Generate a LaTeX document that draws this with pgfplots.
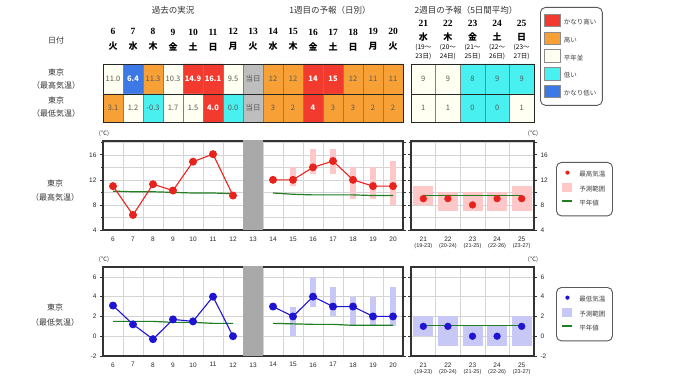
\documentclass[border=0pt]{standalone}
\usepackage{pgfplots}
\pgfplotsset{compat=1.18}
\usepackage{fontspec}
\setmainfont{Liberation Sans}
\newfontfamily\cjk{Noto Sans CJK JP}
\newfontfamily\hserif{Liberation Serif}

\definecolor{cRed}{HTML}{F23A2E}
\definecolor{cOrange}{HTML}{F7A035}
\definecolor{cIvory}{HTML}{FFFFF2}
\definecolor{cCyan}{HTML}{48F0F0}
\definecolor{cBlue}{HTML}{3C78E6}
\definecolor{cCellGray}{HTML}{BEBEBE}
\definecolor{cBand}{HTML}{A9A9A9}
\definecolor{cLine}{HTML}{E8231E}
\definecolor{cPink}{HTML}{FFC8C8}
\definecolor{cNavy}{HTML}{1E14D2}
\definecolor{cLav}{HTML}{C8C8F6}
\definecolor{cGreen}{HTML}{1F7F22}

\newcommand\hd[2]{{\hserif\bfseries\fontsize{9.5}{12.5}\selectfont #1}\\[2.5pt]{\cjk\bfseries\fontsize{9}{12.5}\selectfont #2}}
\newcommand\hw[4]{{\hserif\bfseries\fontsize{9.5}{8.3}\selectfont #1}\\[5.5pt]{\cjk\bfseries\fontsize{9}{8.3}\selectfont #2}\\[1pt]{\cjk\fontsize{6.5}{8.3}\selectfont (#3〜}\\{\cjk\fontsize{6.5}{8.3}\selectfont #4日)}}
\newcommand\wl[2]{#1\\[-1pt]{\fontsize{5.5}{6}\selectfont (#2)}}

\pgfplotsset{
  tbl/.style={
    scale only axis, anchor=south west, axis on top,
    ymin=0, ymax=1, ytick=\empty, enlargelimits=false,
    axis line style={draw=black!85, line width=0.8pt},
    major tick length=0pt, xtick style={draw=none},
  },
  cell/.style={ybar, bar width=1, bar shift=0pt, draw=black!50, line width=0.5pt, forget plot},
  ctext/.style={draw=none, forget plot, nodes near coords, point meta=explicit symbolic,
    nodes near coords align=center,
    every node near coord/.append style={font=\cjk\fontsize{7.5}{8}\selectfont, text=black!65, inner sep=0pt}},
  wtext/.style={ctext, every node near coord/.append style={text=white, font=\cjk\bfseries\fontsize{7.5}{8}\selectfont}},
  chart/.style={
    scale only axis, anchor=south west, height=89pt,
    axis line style={draw=black!80, line width=1.1pt},
    grid style={draw=black!17, line width=0.5pt},
    xminorgrids=true, xmajorgrids=false, ymajorgrids=true, yminorgrids=true,
    tick align=outside, major tick length=3pt, minor tick length=2.5pt,
    tick style={black!80, line width=0.6pt},
    xtick style={draw=none},
    ticklabel style={font=\fontsize{6.5}{7}\selectfont, text=black!85},
    /pgf/number format/assume math mode=true,
  },
  rng/.style={line width=#1, unbounded coords=jump, forget plot},
  band/.style={ybar, bar width=1, bar shift=0pt, fill=cBand, draw=none, forget plot},
  clegend/.style={legend style={draw=black!65, line width=0.9pt, rounded corners=5pt,
      inner xsep=5pt, inner ysep=7pt, row sep=2.5pt, font=\cjk\fontsize{6.5}{7}\selectfont,
      text=black!75, cells={anchor=west}, /tikz/every odd column/.append style={column sep=4pt}}},
}

\begin{document}
\begin{tikzpicture}
\fill[white] (0pt,0pt) rectangle (680pt,382pt);
\path[use as bounding box] (0pt,0pt) rectangle (680pt,382pt);

% ---------- table: past + week 1, max row ----------
\begin{axis}[tbl, at={(103pt,288pt)}, width=300pt, height=30pt, xmin=5.5, xmax=20.5,
  xtick={6,...,20}, xticklabel pos=right,
  xticklabels={{\hd{6}{火}},{\hd{7}{水}},{\hd{8}{木}},{\hd{9}{金}},{\hd{10}{土}},{\hd{11}{日}},{\hd{12}{月}},{\hd{13}{火}},{\hd{14}{水}},{\hd{15}{木}},{\hd{16}{金}},{\hd{17}{土}},{\hd{18}{日}},{\hd{19}{月}},{\hd{20}{火}}},
  xticklabel style={align=center, inner sep=0pt, font=\fontsize{9}{12.5}\selectfont, yshift=13pt}]
\addplot[cell, fill=cIvory] coordinates {(6,1) (9,1) (12,1)};
\addplot[cell, fill=cBlue] coordinates {(7,1)};
\addplot[cell, fill=cOrange] coordinates {(8,1) (14,1) (15,1) (18,1) (19,1) (20,1)};
\addplot[cell, fill=cRed] coordinates {(10,1) (11,1) (16,1) (17,1)};
\addplot[cell, fill=cCellGray] coordinates {(13,1)};
\addplot[ctext] table[meta=t] {
x y t
6 0.5 11.0
8 0.5 11.3
9 0.5 10.3
12 0.5 9.5
13 0.5 当日
14 0.5 12
15 0.5 12
18 0.5 12
19 0.5 11
20 0.5 11
};
\addplot[wtext] table[meta=t] {
x y t
7 0.5 6.4
10 0.5 14.9
11 0.5 16.1
16 0.5 14
17 0.5 15
};
\end{axis}

% ---------- table: past + week 1, min row ----------
\begin{axis}[tbl, at={(103pt,260pt)}, width=300pt, height=28pt, xmin=5.5, xmax=20.5, xtick=\empty]
\addplot[cell, fill=cIvory] coordinates {(7,1) (9,1) (10,1)};
\addplot[cell, fill=cCyan] coordinates {(8,1) (12,1)};
\addplot[cell, fill=cOrange] coordinates {(6,1) (14,1) (15,1) (17,1) (18,1) (19,1) (20,1)};
\addplot[cell, fill=cRed] coordinates {(11,1) (16,1)};
\addplot[cell, fill=cCellGray] coordinates {(13,1)};
\addplot[ctext] table[meta=t] {
x y t
6 0.5 3.1
7 0.5 1.2
8 0.5 -0.3
9 0.5 1.7
10 0.5 1.5
12 0.5 0.0
13 0.5 当日
14 0.5 3
15 0.5 2
17 0.5 3
18 0.5 3
19 0.5 2
20 0.5 2
};
\addplot[wtext] table[meta=t] {
x y t
11 0.5 4.0
16 0.5 4
};
\end{axis}

% ---------- table: week 2, max row (with colour legend) ----------
\begin{axis}[tbl, at={(411pt,288pt)}, width=123pt, height=30pt, xmin=20.5, xmax=25.5,
  xtick={21,...,25}, xticklabel pos=right,
  xticklabels={{\hw{21}{水}{19}{23}},{\hw{22}{木}{20}{24}},{\hw{23}{金}{21}{25}},{\hw{24}{土}{22}{26}},{\hw{25}{日}{23}{27}}},
  xticklabel style={align=center, inner sep=0pt, font=\fontsize{6.5}{8.3}\selectfont, yshift=4.5pt},
  clegend, legend style={at={(1.0488,2.9)}, anchor=north west, inner xsep=4pt, inner ysep=6.5pt, row sep=3.5pt,
    /tikz/every odd column/.append style={column sep=1pt}}]
\addplot[cell, fill=cIvory] coordinates {(21,1) (22,1)};
\addplot[cell, fill=cCyan] coordinates {(23,1) (24,1) (25,1)};
\addplot[ctext] table[meta=t] {
x y t
21 0.5 9
22 0.5 9
23 0.5 8
24 0.5 9
25 0.5 9
};
\addlegendimage{legend image code/.code={\draw[black!45, line width=0.4pt, fill=cRed, sharp corners] (0pt,-4pt) rectangle (16pt,8.5pt);}}
\addlegendentry{かなり高い}
\addlegendimage{legend image code/.code={\draw[black!45, line width=0.4pt, fill=cOrange, sharp corners] (0pt,-4pt) rectangle (16pt,8.5pt);}}
\addlegendentry{高い}
\addlegendimage{legend image code/.code={\draw[black!45, line width=0.4pt, fill=cIvory, sharp corners] (0pt,-4pt) rectangle (16pt,8.5pt);}}
\addlegendentry{平年並}
\addlegendimage{legend image code/.code={\draw[black!45, line width=0.4pt, fill=cCyan, sharp corners] (0pt,-4pt) rectangle (16pt,8.5pt);}}
\addlegendentry{低い}
\addlegendimage{legend image code/.code={\draw[black!45, line width=0.4pt, fill=cBlue, sharp corners] (0pt,-4pt) rectangle (16pt,8.5pt);}}
\addlegendentry{かなり低い}
\end{axis}

% ---------- table: week 2, min row ----------
\begin{axis}[tbl, at={(411pt,260pt)}, width=123pt, height=28pt, xmin=20.5, xmax=25.5, xtick=\empty]
\addplot[cell, fill=cIvory] coordinates {(21,1) (22,1) (25,1)};
\addplot[cell, fill=cCyan] coordinates {(23,1) (24,1)};
\addplot[ctext] table[meta=t] {
x y t
21 0.5 1
22 0.5 1
23 0.5 0
24 0.5 0
25 0.5 1
};
\end{axis}

% ---------- max temperature chart: past + week 1 ----------
\begin{axis}[chart, at={(103pt,152pt)}, width=300pt, xmin=5.5, xmax=20.5, ymin=4, ymax=18.2,
  xtick={6,...,20}, xticklabels={6,7,8,9,10,11,12,13,14,15,16,17,18,19,20},
  minor xtick={6.5,7.5,...,19.5},
  ytick={4,8,12,16}, yticklabels={4,8,12,16}, minor ytick={6,10,14,18}]
\addplot[band] coordinates {(13,30)};
\addplot[cPink, rng=6pt] coordinates {
(15,11) (15,14) (15.5,nan)
(16,13) (16,17) (16.5,nan)
(17,13) (17,17) (17.5,nan)
(18,9) (18,14) (18.5,nan)
(19,9) (19,14) (19.5,nan)
(20,8) (20,15)};
\addplot[cGreen, line width=1.2pt, forget plot] coordinates {(6,10.2) (7,10.1) (8,10.1) (9,10.0) (10,9.9) (11,9.9) (12,9.8)};
\addplot[cGreen, line width=1.2pt, forget plot] coordinates {(14,9.9) (15,9.7) (16,9.6) (17,9.6) (18,9.6) (19,9.5) (20,9.5)};
\addplot[cLine, line width=1.1pt, mark=*, mark size=3.4pt, forget plot] coordinates {(6,11.0) (7,6.4) (8,11.3) (9,10.3) (10,14.9) (11,16.1) (12,9.5)};
\addplot[cLine, line width=1.1pt, mark=*, mark size=3.4pt, forget plot] coordinates {(14,12) (15,12) (16,14) (17,15) (18,12) (19,11) (20,11)};
\end{axis}

% ---------- max temperature chart: week 2 ----------
\begin{axis}[chart, at={(411pt,152pt)}, width=123pt, xmin=20.5, xmax=25.5, ymin=4, ymax=18.2,
  xtick={21,...,25}, xticklabels={{\wl{21}{19-23}},{\wl{22}{20-24}},{\wl{23}{21-25}},{\wl{24}{22-26}},{\wl{25}{23-27}}},
  xticklabel style={align=center},
  minor xtick={21.5,22.5,23.5,24.5},
  ytick={4,8,12,16}, yticklabels={4,8,12,16}, minor ytick={6,10,14,18}, yticklabel pos=right,
  clegend, legend style={at={(1.179,0.764)}, anchor=north west}]
\addplot[cPink, rng=20pt] coordinates {
(21,8) (21,11) (21.5,nan)
(22,7) (22,10) (22.5,nan)
(23,7) (23,10) (23.5,nan)
(24,7) (24,10) (24.5,nan)
(25,7) (25,11)};
\addplot[cGreen, line width=1.2pt, forget plot] coordinates {(21,9.5) (22,9.5) (23,9.5) (24,9.5) (25,9.5)};
\addplot[cLine, only marks, mark=*, mark size=3.4pt, forget plot] coordinates {(21,9) (22,9) (23,8) (24,9) (25,9)};
\addlegendimage{legend image code/.code={\fill[white, opacity=0] (0pt,2pt) rectangle (10pt,2.6pt); \fill[cLine, draw=none] (5pt,2.3pt) circle (2.1pt);}}
\addlegendentry{最高気温}
\addlegendimage{legend image code/.code={\fill[cPink, draw=none, sharp corners] (0pt,-2pt) rectangle (10pt,7pt);}}
\addlegendentry{予測範囲}
\addlegendimage{legend image code/.code={\draw[cGreen, line width=2pt] (0pt,2.3pt) -- (10pt,2.3pt);}}
\addlegendentry{平年値}
\end{axis}

% ---------- min temperature chart: past + week 1 ----------
\begin{axis}[chart, at={(103pt,26pt)}, width=300pt, xmin=5.5, xmax=20.5, ymin=-2, ymax=7,
  xtick={6,...,20}, xticklabels={6,7,8,9,10,11,12,13,14,15,16,17,18,19,20},
  minor xtick={6.5,7.5,...,19.5},
  ytick={-2,0,2,4,6}, yticklabels={-2,0,2,4,6}, yminorgrids=false]
\addplot[band] coordinates {(13,20)};
\addplot[band] coordinates {(13,-20)};
\addplot[cLav, rng=6pt] coordinates {
(15,0) (15,3) (15.5,nan)
(16,3) (16,6) (16.5,nan)
(17,2) (17,5) (17.5,nan)
(18,1) (18,4) (18.5,nan)
(19,1) (19,4) (19.5,nan)
(20,1) (20,5)};
\addplot[cGreen, line width=1.2pt, forget plot] coordinates {(6,1.5) (7,1.5) (8,1.5) (9,1.4) (10,1.4) (11,1.3) (12,1.3)};
\addplot[cGreen, line width=1.2pt, forget plot] coordinates {(14,1.3) (15,1.25) (16,1.2) (17,1.2) (18,1.1) (19,1.1) (20,1.1)};
\addplot[cNavy, line width=1.1pt, mark=*, mark size=3.4pt, forget plot] coordinates {(6,3.1) (7,1.2) (8,-0.3) (9,1.7) (10,1.5) (11,4.0) (12,0.0)};
\addplot[cNavy, line width=1.1pt, mark=*, mark size=3.4pt, forget plot] coordinates {(14,3) (15,2) (16,4) (17,3) (18,3) (19,2) (20,2)};
\end{axis}

% ---------- min temperature chart: week 2 ----------
\begin{axis}[chart, at={(411pt,26pt)}, width=123pt, xmin=20.5, xmax=25.5, ymin=-2, ymax=7,
  xtick={21,...,25}, xticklabels={{\wl{21}{19-23}},{\wl{22}{20-24}},{\wl{23}{21-25}},{\wl{24}{22-26}},{\wl{25}{23-27}}},
  xticklabel style={align=center},
  minor xtick={21.5,22.5,23.5,24.5},
  ytick={-2,0,2,4,6}, yticklabels={-2,0,2,4,6}, yminorgrids=false, yticklabel pos=right,
  clegend, legend style={at={(1.179,0.775)}, anchor=north west}]
\addplot[cLav, rng=20pt] coordinates {
(21,0) (21,2) (21.5,nan)
(22,-1) (22,2) (22.5,nan)
(23,-1) (23,1) (23.5,nan)
(24,-1) (24,1) (24.5,nan)
(25,-1) (25,2)};
\addplot[cGreen, line width=1.2pt, forget plot] coordinates {(21,1.1) (22,1.1) (23,1.1) (24,1.1) (25,1.1)};
\addplot[cNavy, only marks, mark=*, mark size=3.4pt, forget plot] coordinates {(21,1) (22,1) (23,0) (24,0) (25,1)};
\addlegendimage{legend image code/.code={\fill[white, opacity=0] (0pt,2pt) rectangle (10pt,2.6pt); \fill[cNavy, draw=none] (5pt,2.3pt) circle (2.1pt);}}
\addlegendentry{最低気温}
\addlegendimage{legend image code/.code={\fill[cLav, draw=none, sharp corners] (0pt,-2pt) rectangle (10pt,7pt);}}
\addlegendentry{予測範囲}
\addlegendimage{legend image code/.code={\draw[cGreen, line width=2pt] (0pt,2.3pt) -- (10pt,2.3pt);}}
\addlegendentry{平年値}
\end{axis}

% ---------- texts ----------
\begin{scope}[every node/.style={font=\cjk\fontsize{8.5}{10}\selectfont, text=black!80, inner sep=0pt}]
\node at (173pt,372pt) {過去の実況};
\node at (330pt,372pt) {1週目の予報（日別）};
\node at (466pt,372pt) {2週目の予報（5日間平均）};
\end{scope}
\begin{scope}[every node/.style={font=\cjk\fontsize{8}{10}\selectfont, text=black!80, inner sep=0pt}]
\node at (56pt,342pt) {日付};
\node at (56pt,310pt) {東京};
\node at (56pt,297pt) {（最高気温）};
\node at (56pt,282pt) {東京};
\node at (56pt,269pt) {（最低気温）};
\node at (55pt,199pt) {東京};
\node at (55pt,185pt) {（最高気温）};
\node at (55pt,75pt) {東京};
\node at (55pt,60pt) {（最低気温）};
\end{scope}
\begin{scope}[every node/.style={font=\cjk\fontsize{6}{7}\selectfont, text=black!80, inner sep=0pt}]
\node at (104pt,248pt) {(℃)};
\node at (533pt,248pt) {(℃)};
\node at (104pt,122pt) {(℃)};
\node at (533pt,122pt) {(℃)};
\end{scope}
\end{tikzpicture}
\end{document}
